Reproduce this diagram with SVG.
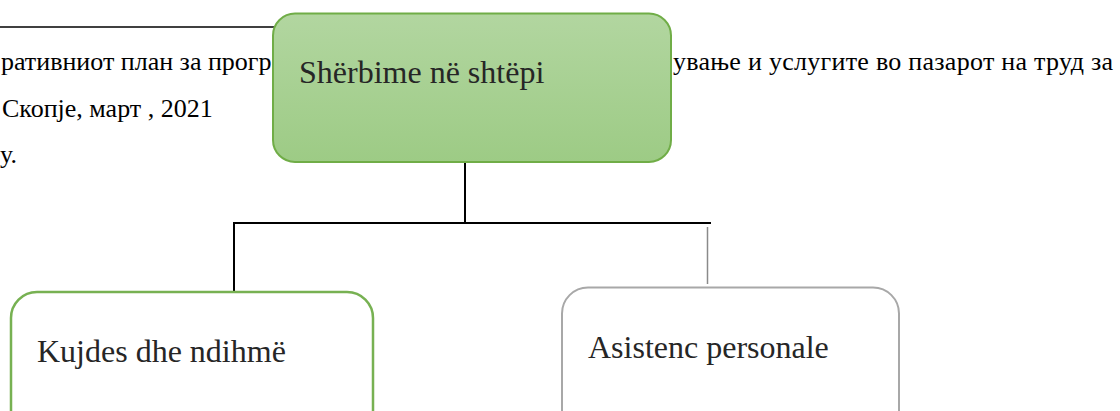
<svg xmlns="http://www.w3.org/2000/svg" width="1120" height="411" viewBox="0 0 1120 411">
<defs>
<linearGradient id="gTop" x1="0" y1="0" x2="0" y2="1">
<stop offset="0" stop-color="#b2d6a0"/>
<stop offset="1" stop-color="#9dcb85"/>
</linearGradient>
</defs>
<style>
.conn{stroke:#000;stroke-width:2;fill:none}
</style>
<g id="page-text" font-family="'Liberation Serif', 'Times New Roman', 'DejaVu Serif', serif" font-size="26" fill="#000">
<line x1="0" y1="27" x2="280" y2="27" stroke="#000" stroke-width="1.6"/>
<text x="1" y="70">ративниот план за прогр</text>
<text x="673" y="70" textLength="440" lengthAdjust="spacing">ување и услугите во пазарот на труд за</text>
<text x="2" y="117">Скопје, март , 2021</text>
<text x="0" y="163">у.</text>
</g>
<g id="connectors">
<line class="conn" x1="465" y1="162" x2="465" y2="223"/>
<line class="conn" x1="234" y1="223" x2="711" y2="223"/>
<line class="conn" x1="234" y1="222" x2="234" y2="292"/>
<line x1="707.5" y1="227" x2="707.5" y2="284" stroke="#8a8a8a" stroke-width="1.5"/>
</g>
<g id="node-root">
<rect x="273" y="13.5" width="398" height="148.5" rx="22" fill="url(#gTop)" stroke="#70ad47" stroke-width="2"/>
<text x="299" y="83" font-family="'Liberation Serif', 'Times New Roman', 'DejaVu Serif', serif" font-size="32" fill="#262626">Shërbime në shtëpi</text>
</g>
<g id="node-kujdes">
<rect x="11" y="292" width="362" height="200" rx="26" fill="#fff" stroke="#77b152" stroke-width="2.5"/>
<text x="37" y="362" font-family="'Liberation Serif', 'Times New Roman', 'DejaVu Serif', serif" font-size="32" fill="#262626">Kujdes dhe ndihmë</text>
</g>
<g id="node-asistenc">
<rect x="562" y="287.5" width="337" height="200" rx="26" fill="#fff" stroke="#a8a8a8" stroke-width="2"/>
<text x="588" y="358" font-family="'Liberation Serif', 'Times New Roman', 'DejaVu Serif', serif" font-size="32" fill="#262626">Asistenc personale</text>
</g>
</svg>
